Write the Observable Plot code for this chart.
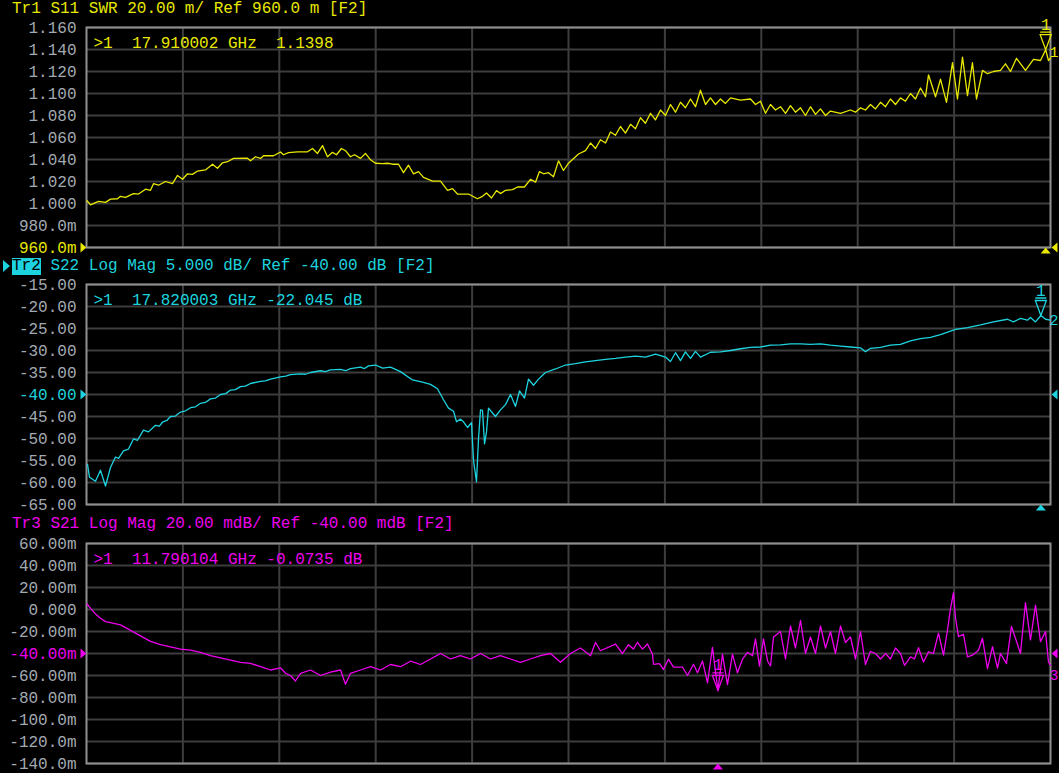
<!DOCTYPE html>
<html><head><meta charset="utf-8">
<script src="https://cdn.jsdelivr.net/npm/d3@7"></script>
<script src="https://cdn.jsdelivr.net/npm/@observablehq/plot@0.6"></script>
<style>
html,body{margin:0;padding:0;background:#000;width:1059px;height:773px;overflow:hidden;}
#root{position:relative;width:1059px;height:773px;background:#000;}
.title{position:absolute;left:12px;height:18px;line-height:18px;font-size:16px;font-family:'Liberation Mono','DejaVu Sans Mono',monospace;white-space:pre;}
.panel{position:absolute;left:0;}
svg text{white-space:pre;}
</style></head>
<body><div id="root"></div>
<script>
// ---- Data (frequency GHz, value) ----
const s11 = [[0.01,1.0025],[0.075,0.9988],[0.224,1.002],[0.355,1.001],[0.448,1.004],[0.579,1.0043],[0.635,1.0065],[0.729,1.0055],[0.878,1.009],[0.971,1.0086],[1.102,1.013],[1.195,1.012],[1.251,1.018],[1.344,1.0166],[1.475,1.020],[1.606,1.018],[1.699,1.0255],[1.792,1.022],[1.886,1.027],[1.979,1.0265],[2.073,1.0295],[2.222,1.0305],[2.353,1.0357],[2.446,1.032],[2.539,1.037],[2.633,1.038],[2.745,1.041],[3.006,1.0412],[3.062,1.0388],[3.156,1.0425],[3.249,1.041],[3.305,1.0434],[3.492,1.0434],[3.622,1.0468],[3.678,1.0443],[3.772,1.0462],[3.940,1.047],[4.127,1.047],[4.220,1.050],[4.313,1.0455],[4.407,1.0526],[4.500,1.0425],[4.593,1.0465],[4.668,1.0443],[4.761,1.050],[4.836,1.048],[4.929,1.0425],[5.004,1.0443],[5.116,1.041],[5.209,1.0455],[5.303,1.0397],[5.396,1.0366],[5.527,1.0363],[5.620,1.0366],[5.714,1.0357],[5.826,1.0357],[5.919,1.028],[6.012,1.0348],[6.106,1.027],[6.199,1.029],[6.292,1.0237],[6.461,1.0203],[6.610,1.0203],[6.741,1.012],[6.834,1.0135],[6.927,1.0086],[7.133,1.0086],[7.301,1.0043],[7.394,1.0065],[7.469,1.0095],[7.562,1.005],[7.656,1.0117],[7.730,1.009],[7.824,1.012],[7.954,1.0126],[8.048,1.015],[8.178,1.015],[8.290,1.022],[8.384,1.0194],[8.458,1.029],[8.533,1.027],[8.626,1.028],[8.720,1.0243],[8.813,1.0388],[8.906,1.030],[9.000,1.0366],[9.187,1.045],[9.317,1.048],[9.411,1.055],[9.504,1.05],[9.597,1.058],[9.691,1.055],[9.784,1.065],[9.877,1.062],[9.970,1.07],[10.064,1.064],[10.158,1.072],[10.251,1.068],[10.344,1.078],[10.437,1.073],[10.531,1.082],[10.624,1.076],[10.718,1.085],[10.811,1.08],[10.904,1.09],[10.998,1.083],[11.091,1.092],[11.184,1.087],[11.278,1.095],[11.371,1.088],[11.464,1.103],[11.558,1.09],[11.651,1.096],[11.745,1.09],[11.838,1.095],[11.931,1.091],[12.025,1.096],[12.211,1.094],[12.398,1.095],[12.492,1.09],[12.585,1.093],[12.678,1.082],[12.772,1.09],[12.865,1.085],[12.958,1.088],[13.052,1.082],[13.145,1.089],[13.238,1.083],[13.332,1.087],[13.425,1.08],[13.518,1.088],[13.612,1.081],[13.705,1.086],[13.799,1.08],[13.892,1.084],[14.079,1.082],[14.265,1.085],[14.359,1.083],[14.452,1.087],[14.545,1.085],[14.639,1.09],[14.732,1.086],[14.826,1.092],[14.919,1.088],[15.012,1.095],[15.106,1.09],[15.199,1.096],[15.292,1.093],[15.386,1.1],[15.479,1.095],[15.572,1.105],[15.666,1.097],[15.722,1.117],[15.853,1.097],[15.946,1.113],[16.058,1.092],[16.170,1.128],[16.263,1.095],[16.357,1.133],[16.450,1.098],[16.543,1.128],[16.618,1.095],[16.730,1.121],[16.823,1.118],[16.935,1.12],[17.066,1.121],[17.159,1.127],[17.253,1.12],[17.365,1.132],[17.533,1.121],[17.682,1.131],[17.813,1.13],[17.910,1.1398],[17.962,1.130],[18.0,1.132]];

const s22 = [[0.019,-55.9],[0.056,-58.8],[0.168,-59.7],[0.261,-57.2],[0.355,-60.8],[0.448,-56.6],[0.541,-54.2],[0.598,-54.5],[0.691,-52.8],[0.784,-52.4],[0.878,-50.1],[0.952,-50.4],[1.064,-48.1],[1.158,-48.5],[1.288,-47],[1.360,-47.2],[1.419,-46.3],[1.500,-45.9],[1.568,-45],[1.660,-44.9],[1.755,-44],[1.850,-43.7],[1.942,-43],[2.035,-42.8],[2.129,-42],[2.220,-41.8],[2.315,-41],[2.410,-40.8],[2.502,-40],[2.600,-39.8],[2.689,-39],[2.780,-38.9],[2.875,-38.2],[2.970,-38.1],[3.062,-37.5],[3.249,-37],[3.340,-36.9],[3.436,-36.5],[3.622,-36],[3.720,-35.8],[3.809,-35.5],[3.996,-35.3],[4.090,-35.4],[4.183,-35],[4.369,-34.6],[4.460,-34.8],[4.556,-34.4],[4.743,-34.3],[4.840,-34.6],[4.929,-34.1],[5.116,-33.8],[5.190,-34.1],[5.265,-33.5],[5.396,-33.3],[5.527,-34],[5.676,-33.8],[5.863,-34.8],[6.087,-36.7],[6.274,-37.2],[6.423,-37.7],[6.554,-38.7],[6.666,-41.2],[6.759,-43.1],[6.853,-43.8],[6.909,-46.2],[6.983,-45.6],[7.039,-46.2],[7.114,-47.5],[7.189,-46.4],[7.226,-55],[7.282,-59.8],[7.320,-50],[7.357,-43.5],[7.394,-43.6],[7.432,-51.2],[7.469,-48.5],[7.506,-43.1],[7.581,-44.2],[7.637,-45],[7.730,-43.5],[7.824,-42.3],[7.917,-40],[8.010,-42.7],[8.085,-39.2],[8.178,-40.8],[8.253,-36.5],[8.346,-37.9],[8.440,-36.5],[8.570,-35],[8.757,-34.2],[8.944,-33.3],[9.131,-33],[9.317,-32.6],[9.504,-32.3],[9.691,-32],[9.877,-31.8],[10.064,-31.5],[10.251,-31.3],[10.437,-31.5],[10.624,-30.8],[10.811,-31.5],[10.904,-32.5],[10.998,-30.5],[11.091,-32.3],[11.184,-30.3],[11.278,-31.8],[11.371,-30.2],[11.464,-31.5],[11.651,-30.4],[11.838,-30.3],[12.025,-30],[12.211,-29.6],[12.398,-29.3],[12.585,-29.2],[12.772,-28.8],[12.958,-28.7],[13.145,-28.5],[13.332,-28.5],[13.518,-28.6],[13.705,-28.5],[13.892,-28.8],[14.079,-29],[14.265,-29.2],[14.452,-29.4],[14.545,-30.3],[14.639,-29.5],[14.826,-29.3],[15.012,-28.8],[15.199,-28.6],[15.386,-27.8],[15.572,-27.3],[15.759,-27],[15.946,-26.4],[16.226,-25.2],[16.450,-24.8],[16.693,-24.2],[16.935,-23.5],[17.197,-22.9],[17.309,-23.5],[17.439,-22.7],[17.570,-23.1],[17.626,-22.5],[17.720,-23.5],[17.820,-22.045],[17.907,-22.9],[18.0,-23.1]];

const s21 = [[0.01,5],[0.075,1],[0.168,-4],[0.261,-8],[0.355,-11],[0.448,-12],[0.635,-14],[0.822,-19],[1.008,-24],[1.195,-29],[1.382,-32],[1.568,-34],[1.755,-36],[1.942,-37],[2.129,-39],[2.315,-42],[2.502,-44],[2.689,-46],[2.875,-48],[3.062,-49],[3.249,-52],[3.436,-55],[3.622,-53],[3.716,-58],[3.809,-60],[3.902,-65],[3.996,-58],[4.183,-55],[4.369,-60],[4.556,-57],[4.743,-55],[4.836,-68],[4.929,-58],[5.116,-55],[5.303,-52],[5.489,-55],[5.676,-50],[5.863,-52],[6.050,-47],[6.236,-50],[6.423,-45],[6.610,-40],[6.797,-45],[6.983,-42],[7.170,-45],[7.357,-40],[7.543,-45],[7.730,-42],[7.917,-45],[8.104,-48],[8.290,-45],[8.477,-42],[8.664,-40],[8.850,-48],[9.037,-40],[9.224,-35],[9.411,-42],[9.504,-30],[9.597,-37.5],[9.877,-31.4],[10.008,-40],[10.120,-32],[10.213,-36],[10.288,-29.8],[10.381,-36],[10.475,-31.4],[10.568,-40.6],[10.587,-49.8],[10.699,-49.2],[10.773,-54.5],[10.867,-45.2],[10.960,-52.3],[11.128,-52.3],[11.222,-60],[11.334,-49.8],[11.409,-57.5],[11.502,-46.8],[11.595,-66.8],[11.688,-34.5],[11.790,-73.5],[11.875,-40.6],[11.968,-68.3],[12.062,-40.6],[12.155,-57.5],[12.249,-45.2],[12.342,-39],[12.436,-42],[12.492,-26.8],[12.566,-51.4],[12.641,-26.8],[12.716,-46.8],[12.772,-51.4],[12.828,-25],[12.958,-20],[13.052,-45],[13.145,-15],[13.238,-35],[13.332,-10],[13.425,-40],[13.518,-25],[13.612,-40],[13.705,-15],[13.799,-35],[13.892,-20],[13.985,-40],[14.079,-15],[14.172,-30],[14.265,-25],[14.359,-45],[14.452,-20],[14.545,-50],[14.639,-38],[14.732,-40],[14.826,-45],[14.919,-40],[15.012,-45],[15.106,-35],[15.199,-40],[15.274,-50.8],[15.386,-43],[15.460,-45],[15.535,-34.8],[15.628,-47.7],[15.722,-38.5],[15.815,-40],[15.908,-21.5],[16.002,-41.5],[16.077,-18.5],[16.133,0.9],[16.189,15.4],[16.226,-7.7],[16.282,-24.6],[16.375,-22.5],[16.450,-43],[16.543,-41.5],[16.655,-37],[16.730,-26.2],[16.823,-53.8],[16.917,-33.8],[17.010,-53.2],[17.066,-40],[17.178,-49.2],[17.271,-15.4],[17.346,-26.2],[17.439,-40],[17.533,6.2],[17.626,-27.7],[17.720,4],[17.813,-29.2],[17.907,-20],[17.962,-47.7],[18.0,-50.8]];

// Axis ticks and labels
const xGrid = [1.8,3.6,5.4,7.2,9.0,10.8,12.6,14.4,16.2];
const s11Ticks = [1.16,1.14,1.12,1.10,1.08,1.06,1.04,1.02,1.00,0.98,0.96];
const s11Labels = ["1.160","1.140","1.120","1.100","1.080","1.060","1.040","1.020","1.000","980.0m","960.0m"];
const s22Ticks = [-15,-20,-25,-30,-35,-40,-45,-50,-55,-60,-65];
const s22Labels = ["-15.00","-20.00","-25.00","-30.00","-35.00","-40.00","-45.00","-50.00","-55.00","-60.00","-65.00"];
const s21Ticks = [60,40,20,0,-20,-40,-60,-80,-100,-120,-140];
const s21Labels = ["60.00m","40.00m","20.00m","0.000","-20.00m","-40.00m","-60.00m","-80.00m","-100.0m","-120.0m","-140.0m"];

// Markers
const marker1 = {f:17.910002, v:1.1398};
const marker2 = {f:17.820003, v:-22.045};
const marker3 = {f:11.790104, v:-73.5};

const titles = [
  "Tr1 S11 SWR 20.00 m/ Ref 960.0 m [F2]",
  " S22 Log Mag 5.000 dB/ Ref -40.00 dB [F2]",
  "Tr3 S21 Log Mag 20.00 mdB/ Ref -40.00 mdB [F2]"
];
const readouts = [
  ">1  17.910002 GHz  1.1398",
  ">1  17.820003 GHz -22.045 dB",
  ">1  11.790104 GHz -0.0735 dB"
];

const YELLOW = "#e8e800", CYAN = "#1dd3df", MAGENTA = "#ee00ee";
const MONO = "'Liberation Mono','DejaVu Sans Mono',monospace";

// symbols (tip at origin)
const markerSym = {draw(c){c.moveTo(-5.5,-17.5);c.lineTo(5.5,-17.5);c.moveTo(-5.5,-15);c.lineTo(5.5,-15);c.lineTo(0,0);c.closePath();}};
const rightArrow = {draw(c){c.moveTo(0,0);c.lineTo(-6,-5);c.lineTo(-6,5);c.closePath();}};
const leftArrow = {draw(c){c.moveTo(1,0);c.lineTo(7,-5);c.lineTo(7,5);c.closePath();}};
const upArrow = {draw(c){c.moveTo(0,0);c.lineTo(-5,6);c.lineTo(5,6);c.closePath();}};

function panel(cfg){
  const data = cfg.series.map(([f,v]) => ({f, v}));
  const last = data[data.length-1];
  const marks = [
    Plot.gridX(xGrid, {stroke:"#3d3d3d", strokeOpacity:1, strokeWidth:2}),
    Plot.gridY(cfg.ticks, {stroke:"#3d3d3d", strokeOpacity:1, strokeWidth:2}),
    Plot.frame({stroke:"#8f8f8f", strokeWidth:2}),
    Plot.text(cfg.ticks, {filter:d => d !== cfg.ref, y:d => d, text:(d,i) => cfg.labels[i], frameAnchor:"left", dx:-10, textAnchor:"end", fill:"#a3aab2", fontSize:16}),
    Plot.text(cfg.ticks, {filter:d => d === cfg.ref, y:d => d, text:(d,i) => cfg.labels[i], frameAnchor:"left", dx:-10, textAnchor:"end", fill:cfg.color, fontSize:16}),
    Plot.dot([cfg.ref], {y:d => d, frameAnchor:"left", symbol:rightArrow, fill:cfg.color, stroke:"none"}),
    Plot.text([cfg.readout], {frameAnchor:"top-left", dx:7, dy:9, textAnchor:"start", fill:cfg.color, fontSize:16}),
    Plot.line(data, {x:"f", y:"v", stroke:cfg.color, strokeWidth:1.3}),
    Plot.dot([cfg.marker], {x:"f", y:"v", symbol:markerSym, stroke:cfg.color, fill:"none", strokeWidth:1.3}),
    Plot.text([cfg.marker], {x:"f", y:"v", text:() => "1", dy:-25, fill:cfg.color, fontSize:16}),
    Plot.dot([cfg.marker], {x:"f", frameAnchor:"bottom", symbol:upArrow, fill:cfg.color, stroke:"none"}),
    Plot.dot([cfg.ref], {y:d => d, frameAnchor:"right", symbol:leftArrow, fill:cfg.color, stroke:"none"}),
    Plot.text([last], {x:"f", y:"v", text:() => cfg.num, dx:-1, dy:cfg.numDy, textAnchor:"start", fill:cfg.color, fontSize:15})
  ];
  const chart = Plot.plot({
    width:1059, height:cfg.height,
    marginLeft:86, marginRight:9, marginTop:9, marginBottom:cfg.mb,
    x:{domain:[0,18], axis:null},
    y:{domain:cfg.domain, axis:null},
    style:{background:"#000", fontFamily:MONO, fontSize:"16px", overflow:"visible"},
    marks
  });
  chart.classList.add("panel");
  chart.style.top = cfg.top + "px";
  return chart;
}

const root = document.getElementById("root");

function addTitle(top, html){
  const d = document.createElement("div");
  d.className = "title";
  d.style.top = top + "px";
  d.innerHTML = html;
  root.appendChild(d);
  return d;
}
addTitle(0, `<span style="color:${YELLOW}">${titles[0]}</span>`);
addTitle(257, `<span style="background:${CYAN};color:#000">Tr2</span><span style="color:${CYAN}">${titles[1]}</span>`);
const tri = document.createElement("div");
tri.style.cssText = `position:absolute;left:3px;top:260px;width:0;height:0;border-top:6px solid transparent;border-bottom:6px solid transparent;border-left:7px solid ${CYAN};`;
root.appendChild(tri);
addTitle(515, `<span style="color:${MAGENTA}">${titles[2]}</span>`);

root.appendChild(panel({top:18, height:240, mb:11, series:s11, domain:[0.96,1.16], ticks:s11Ticks, labels:s11Labels, ref:0.96, color:YELLOW, readout:readouts[0], marker:marker1, num:"1", numDy:-6}));
root.appendChild(panel({top:275, height:240, mb:11, series:s22, domain:[-65,-15], ticks:s22Ticks, labels:s22Labels, ref:-40, color:CYAN, readout:readouts[1], marker:marker2, num:"2", numDy:0}));
root.appendChild(panel({top:534, height:239, mb:10, series:s21, domain:[-140,60], ticks:s21Ticks, labels:s21Labels, ref:-40, color:MAGENTA, readout:readouts[2], marker:marker3, num:"3", numDy:10}));
</script>
</body></html>
